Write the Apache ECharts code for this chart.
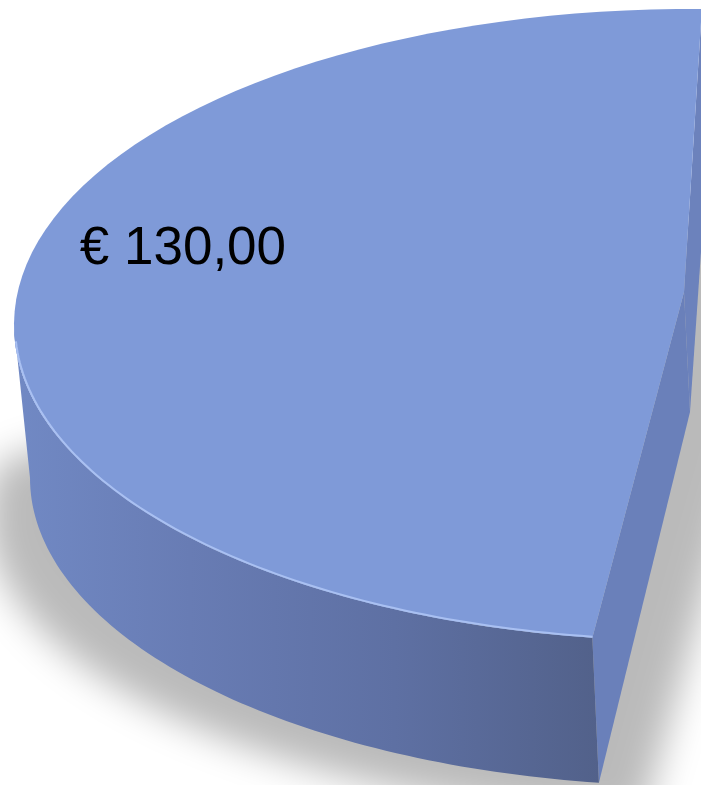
<!DOCTYPE html>
<html>
<head>
  <meta charset="UTF-8">
  <title>Pie 3D</title>
  <script src="https://cdn.jsdelivr.net/npm/echarts@6/dist/echarts.min.js"></script>
  <style type="text/css">
  html, body { margin: 0; padding: 0; background: #ffffff; }
  #pie { width: 701px; height: 785px; }
  </style>
</head>
<body>
  <div id="pie"></div>

  <script>
    // slice values; only the first one is inside the cropped frame
    var sliceNames = ['Importo', 'Resto'];
    var sliceValues = [130, 141];
    var startAngle = 89;

    // projected ellipses of the top and bottom of the pie (perspective view)
    var topC = [690, 325], topA = 676, topB = 316, topApex = [684, 292];
    var botC = [695, 478], botA = 665, botB = 308, botApex = [690, 412];

    function ellPt(c, a, b, deg) {
      var r = deg * Math.PI / 180;
      return [c[0] + a * Math.cos(r), c[1] - b * Math.sin(r)];
    }
    function arc(c, a, b, from, to) {
      var pts = [], n = 80;
      for (var i = 0; i <= n; i++) pts.push(ellPt(c, a, b, from + (to - from) * i / n));
      return pts;
    }
    function euro(v) {
      return '€ ' + v.toFixed(2).replace('.', ',');
    }

    var total = sliceValues.reduce(function (s, v) { return s + v; }, 0);

    function renderItem(params, api) {
      var idx = params.dataIndex;
      if (idx !== 0) return null; // rest of the pie is outside the frame
      var before = 0;
      for (var i = 0; i < idx; i++) before += sliceValues[i];
      var a0 = startAngle + before / total * 360;
      var a1 = a0 + api.value(0) / total * 360;

      var topArc = arc(topC, topA, topB, a0, a1);
      var wallTop = arc(topC, topA, topB, 180, a1);
      var wallBot = arc(botC, botA, botB, 180, a1).reverse();
      var t0 = ellPt(topC, topA, topB, a0), t1 = ellPt(topC, topA, topB, a1);
      var b0 = ellPt(botC, botA, botB, a0), b1 = ellPt(botC, botA, botB, a1);

      // soft floor shadow (drawn off canvas, only its blur is shifted back)
      var sh = arc(botC, botA, botB, 170, a1).concat([botApex, b0]).map(function (p) {
        return [313 + 1.15 * (p[0] - 313) - 3000, p[1] + 38];
      });

      var mid = a0 + (a1 - a0) * 0.425;
      var lp = ellPt(topC, topA * 0.787, topB * 0.787, mid);

      return {
        type: 'group',
        children: [
          {type: 'polygon', shape: {points: sh},
           style: {fill: '#000', shadowBlur: 36, shadowColor: 'rgba(0,0,0,0.27)', shadowOffsetX: 3000}},
          {type: 'polygon', shape: {points: [topApex, t0, b0, botApex]},
           style: {fill: '#6c82bc'}},
          {type: 'polygon', shape: {points: [topApex, t1, b1, botApex]},
           style: {fill: '#6a80ba'}},
          {type: 'polygon', shape: {points: wallTop.concat(wallBot)},
           style: {fill: {type: 'linear', x: 14, y: 0, x2: 600, y2: 0, global: true,
             colorStops: [{offset: 0, color: '#7189c4'}, {offset: 0.3, color: '#687cb4'},
                          {offset: 0.65, color: '#5e70a3'}, {offset: 1, color: '#52618a'}]}}},
          {type: 'polygon', shape: {points: [topApex].concat(topArc)},
           style: {fill: '#7f9ad8'}},
          {type: 'polyline', shape: {points: arc(topC, topA - 1, topB - 1, 183, a1)},
           style: {fill: null, stroke: '#a9c0f2', lineWidth: 2}},
          {type: 'text', x: lp[0], y: lp[1],
           style: {text: euro(api.value(0)), fill: '#000000', fontSize: 53,
             fontFamily: '"Liberation Sans", Arial, sans-serif', align: 'center', verticalAlign: 'middle'}}
        ]
      };
    }

    var chart = echarts.init(document.getElementById('pie'), null, {renderer: 'canvas'});
    chart.setOption({
      animation: false,
      series: [{
        type: 'custom',
        coordinateSystem: 'none',
        renderItem: renderItem,
        data: sliceValues.map(function (v, i) { return {name: sliceNames[i], value: [v]}; })
      }]
    });
  </script>
</body>
</html>
